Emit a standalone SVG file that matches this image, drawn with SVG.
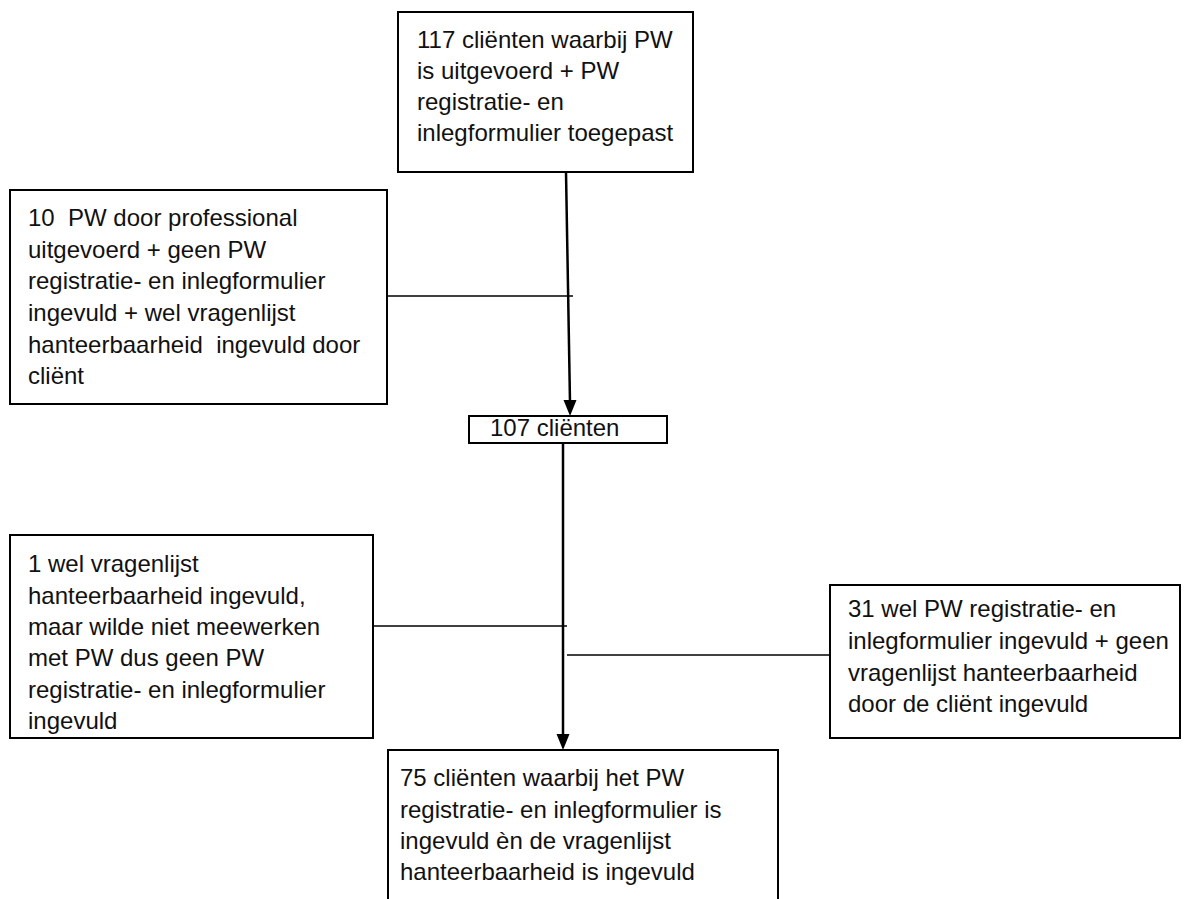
<svg xmlns="http://www.w3.org/2000/svg" width="1189" height="899" viewBox="0 0 1189 899">
<style>
.box{fill:#fff;stroke:#000;stroke-width:2}
.t{font-family:"Liberation Sans",Arial,sans-serif;font-size:24px;fill:#111}
.ln{stroke:#000;stroke-width:1.5;fill:none}
.main{stroke:#000;stroke-width:2.5;fill:none}
.ah{fill:#000}
</style>
<rect width="1189" height="899" fill="#fff"/>
<g id="connectors">
<line class="main" x1="566" y1="172" x2="570" y2="402"/>
<path class="ah" d="M563.5,400 L576.5,400 L570,416 Z"/>
<line class="ln" x1="387" y1="296" x2="573" y2="296"/>
<line class="main" x1="563" y1="443" x2="563" y2="736"/>
<path class="ah" d="M556.5,734 L569.5,734 L563,750 Z"/>
<line class="ln" x1="373" y1="626" x2="567" y2="626"/>
<line class="ln" x1="567" y1="655" x2="830" y2="655"/>
</g>
<g id="n117">
<rect class="box" x="398" y="12" width="295" height="160"/>
<text class="t" x="417" y="48">117 cliënten waarbij PW</text>
<text class="t" x="417" y="79">is uitgevoerd + PW</text>
<text class="t" x="417" y="110">registratie- en</text>
<text class="t" x="417" y="141">inlegformulier toegepast</text>
</g>
<g id="n10">
<rect class="box" x="10" y="190" width="377" height="214"/>
<text class="t" x="28" y="226" xml:space="preserve">10  PW door professional</text>
<text class="t" x="28" y="258">uitgevoerd + geen PW</text>
<text class="t" x="28" y="289">registratie- en inlegformulier</text>
<text class="t" x="28" y="321">ingevuld + wel vragenlijst</text>
<text class="t" x="28" y="353" xml:space="preserve">hanteerbaarheid  ingevuld door</text>
<text class="t" x="28" y="384">cliënt</text>
</g>
<g id="n107">
<rect class="box" x="469" y="416" width="198" height="27"/>
<text class="t" x="490" y="436">107 cliënten</text>
</g>
<g id="n1">
<rect class="box" x="10" y="535" width="363" height="203"/>
<text class="t" x="28" y="572">1 wel vragenlijst</text>
<text class="t" x="28" y="604">hanteerbaarheid ingevuld,</text>
<text class="t" x="28" y="635">maar wilde niet meewerken</text>
<text class="t" x="28" y="666">met PW dus geen PW</text>
<text class="t" x="28" y="698">registratie- en inlegformulier</text>
<text class="t" x="28" y="729">ingevuld</text>
</g>
<g id="n31">
<rect class="box" x="830" y="585" width="350" height="153"/>
<text class="t" x="848" y="617">31 wel PW registratie- en</text>
<text class="t" x="848" y="649">inlegformulier ingevuld + geen</text>
<text class="t" x="848" y="681">vragenlijst hanteerbaarheid</text>
<text class="t" x="848" y="712">door de cliënt ingevuld</text>
</g>
<g id="n75">
<path class="box" d="M388,905 L388,750 L778,750 L778,905"/>
<text class="t" x="400" y="786">75 cliënten waarbij het PW</text>
<text class="t" x="400" y="818">registratie- en inlegformulier is</text>
<text class="t" x="400" y="849">ingevuld èn de vragenlijst</text>
<text class="t" x="400" y="880">hanteerbaarheid is ingevuld</text>
</g>
</svg>
